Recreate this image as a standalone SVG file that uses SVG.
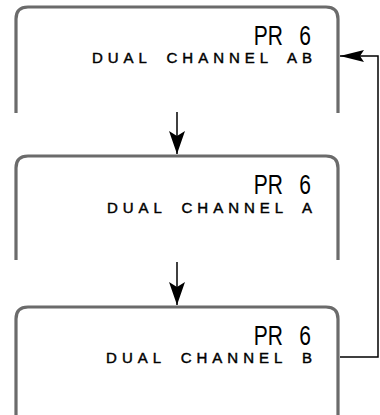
<svg xmlns="http://www.w3.org/2000/svg" width="380" height="415" viewBox="0 0 380 415">
<style>
.box{fill:none;stroke:#6b6b6b;stroke-width:3.2}
.pr{font-family:"Liberation Sans",Arial,sans-serif;font-size:28px;word-spacing:14px;fill:#000;text-anchor:end}
.ch{font-family:"Liberation Sans",Arial,sans-serif;font-size:15px;letter-spacing:5px;word-spacing:6px;fill:#000;stroke:#000;stroke-width:0.45;text-anchor:end}
.conn{fill:none;stroke:#000;stroke-width:1.5}
</style>
<defs>
<marker id="ah" markerUnits="userSpaceOnUse" markerWidth="26" markerHeight="18" refX="23" refY="8" orient="auto">
<path d="M0,0 L23,8 L0,16 L5,8 Z" fill="#000"/>
</marker>
<marker id="ah2" markerUnits="userSpaceOnUse" markerWidth="26" markerHeight="14" refX="24" refY="6" orient="auto">
<path d="M0,0 L24,6 L0,12 L4,6 Z" fill="#000"/>
</marker>
</defs>
<rect width="380" height="415" fill="#fff"/>
<g id="node-ab">
<path class="box" d="M16,113 V19 Q16,7 28,7 H326 Q338,7 338,19 V113"/>
<text class="pr" transform="translate(311,45) scale(0.75,1)" x="0" y="0">PR 6</text>
<text class="ch" x="317" y="63">DUAL CHANNEL AB</text>
</g>
<g id="node-a">
<path class="box" d="M16,260 V168 Q16,156 28,156 H326 Q338,156 338,168 V260"/>
<text class="pr" transform="translate(311,194) scale(0.75,1)" x="0" y="0">PR 6</text>
<text class="ch" x="317" y="213">DUAL CHANNEL A</text>
</g>
<g id="node-b">
<path class="box" d="M16,415 V319 Q16,307 28,307 H326 Q338,307 338,319 V415"/>
<text class="pr" transform="translate(311,345) scale(0.75,1)" x="0" y="0">PR 6</text>
<text class="ch" x="317" y="363">DUAL CHANNEL B</text>
</g>
<g id="connectors">
<path class="conn" d="M177,112 V154" marker-end="url(#ah)"/>
<path class="conn" d="M177,262 V305" marker-end="url(#ah)"/>
<path class="conn" d="M340,357 H378 V56 H340" marker-end="url(#ah2)"/>
</g>
</svg>
